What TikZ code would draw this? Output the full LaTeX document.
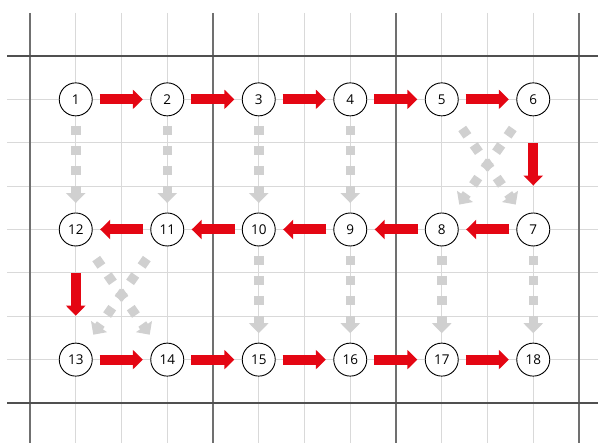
\documentclass[tikz,border=0pt]{standalone}
\usepackage{fontspec}
\setmainfont{Open Sans}
\usetikzlibrary{arrows.meta}
\definecolor{myred}{RGB}{228,6,19}
\definecolor{mygray}{RGB}{208,208,208}
\definecolor{gridlight}{RGB}{217,217,217}
\definecolor{gridvert}{RGB}{112,112,112}
\definecolor{gridhor}{RGB}{80,80,80}
\tikzset{
  num/.style={circle,draw=black,line width=0.9pt,fill=white,minimum size=33pt,inner sep=0pt,font=\fontsize{13.5}{14}\selectfont},
  redarrow/.style={draw=myred,line width=10pt,-{Triangle[width=19pt,length=10pt]}},
  grayarrow/.style={draw=mygray,line width=9.5pt,dash pattern=on 9pt off 11pt,-{Triangle[width=19pt,length=10pt]}},
  lightline/.style={draw=gridlight,line width=1pt},
  darkv/.style={draw=gridvert,line width=1.4pt},
  darkh/.style={draw=gridhor,line width=1.3pt}
}
\begin{document}
\begin{tikzpicture}[x=1pt,y=-1pt]
\useasboundingbox (0,0) rectangle (598,443);
% light grid
\foreach \i in {1,2,3,5,6,7,9,10,11}{
  \draw[lightline] ({30+45.75*\i},13) -- ({30+45.75*\i},443);
}
\foreach \j in {1,2,3,4,5,6,7}{
  \draw[lightline] (7,{56+43.375*\j}) -- (598,{56+43.375*\j});
}
% dark grid
\foreach \i in {0,4,8,12}{
  \draw[darkv] ({30+45.75*\i},13) -- ({30+45.75*\i},443);
}
\draw[darkh] (7,56) -- (598,56);
\draw[darkh] (7,403) -- (598,403);
% nodes
\foreach \n/\c in {1/1,2/3,3/5,4/7,5/9,6/11}{
  \node[num] (n\n) at ({30+45.75*\c},99.375) {\n};
}
\foreach \n/\c in {12/1,11/3,10/5,9/7,8/9,7/11}{
  \node[num] (n\n) at ({30+45.75*\c},229.5) {\n};
}
\foreach \n/\c in {13/1,14/3,15/5,16/7,17/9,18/11}{
  \node[num] (n\n) at ({30+45.75*\c},359.625) {\n};
}
% gray arrows
\foreach \a/\b in {1/12,2/11,3/10,4/9,10/15,9/16,8/17,7/18}{
  \draw[grayarrow,shorten <=9.5pt,shorten >=9.5pt] (n\a) -- (n\b);
}
\foreach \a/\b in {5/7,6/8,11/13,12/14}{
  \draw[grayarrow,shorten <=18.65pt,shorten >=13.5pt] (n\a) -- (n\b);
}
% red arrows
\foreach \a/\b in {1/2,2/3,3/4,4/5,5/6,7/8,8/9,9/10,10/11,11/12,13/14,14/15,15/16,16/17,17/18}{
  \draw[redarrow,shorten <=7pt,shorten >=7.5pt] (n\a) -- (n\b);
}
\foreach \a/\b in {6/7,12/13}{
  \draw[redarrow,shorten <=27pt,shorten >=27pt] (n\a) -- (n\b);
}
\end{tikzpicture}
\end{document}
